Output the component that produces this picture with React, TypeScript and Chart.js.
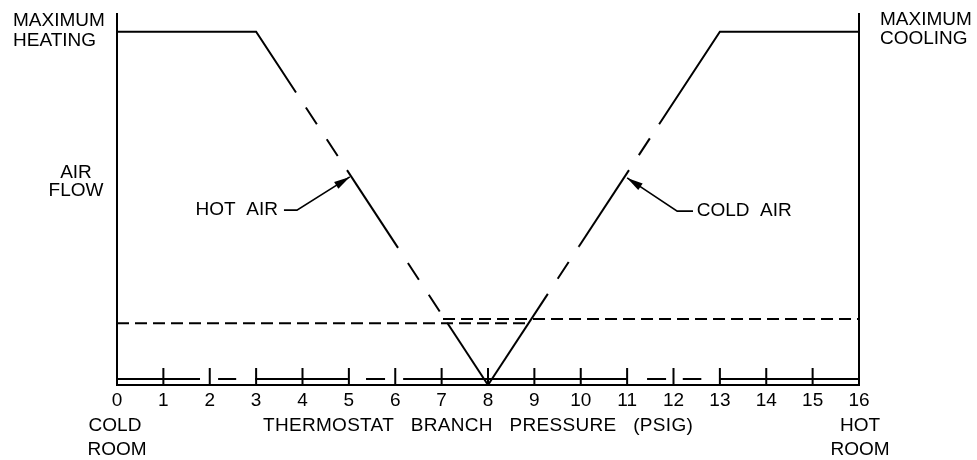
import React, { useEffect, useRef } from "react";
import { Chart, registerables } from "chart.js";

Chart.register(...registerables);

// ---- data ----
const X_TICKS = [0, 1, 2, 3, 4, 5, 6, 7, 8, 9, 10, 11, 12, 13, 14, 15, 16];
const Y_MAX = 105;

// Hot air curve: breakpoints where the line switches between solid and dashed
const HOT_X = [0, 3, 3.86, 4.96, 6.06, 7.12, 8];
const HOT_Y = [100, 100, 82.8, 60.8, 38.8, 17.6, 0];
const HOT_DASHED_SEGMENTS = [2, 4];

// Cold air curve
const COLD_X = [8, 9.29, 9.96, 11.04, 11.69, 13, 16];
const COLD_Y = [0, 25.8, 39.2, 60.8, 73.8, 100, 100];
const COLD_DASHED_SEGMENTS = [1, 3];

// Minimum-flow dashed levels
const MIN_LEFT_X = [0, 8.92];
const MIN_LEFT_Y = 17.5;
const MIN_RIGHT_X = [7.03, 16];
const MIN_RIGHT_Y = 18.7;

// Upper rail of the double bottom line (segments)
const RAIL_SEGMENTS: [number, number][] = [
  [0, 1.79],
  [2.18, 2.57],
  [2.98, 4.98],
  [5.37, 5.78],
  [6.17, 11.0],
  [11.43, 11.84],
  [12.2, 12.6],
  [13, 16],
];
const RAIL_Y = 1.7;
const TICK_MARK_X = [1, 2, 3, 4, 5, 6, 7, 8, 9, 10, 11, 12, 13, 14, 15];
const TICK_MARK_TOP = 4.8;

// Annotation anchors (data coords)
const HOT_LABEL = { x: 3.47, y: 49.5 };
const HOT_LEADER = [
  { x: 3.6, y: 49.5 },
  { x: 3.88, y: 49.5 },
  { x: 5.02, y: 58.9 },
];
const COLD_LABEL = { x: 12.5, y: 49.2 };
const COLD_LEADER = [
  { x: 12.42, y: 49.2 },
  { x: 12.08, y: 49.2 },
  { x: 11.0, y: 58.6 },
];

const FONT = '19px "Liberation Sans", Arial, sans-serif';

function pairsToPoints(xs: number[], ys: number[]) {
  return xs.map((x, i) => ({ x, y: ys[i] }));
}

const annotationPlugin = {
  id: "annotations",
  afterDraw(chart: any) {
    const { ctx, chartArea: a, scales } = chart;
    const xs = scales.x;
    const ys = scales.y;
    const px = (v: number) => xs.getPixelForValue(v);
    const py = (v: number) => ys.getPixelForValue(v);
    ctx.save();
    ctx.fillStyle = "#000";
    ctx.strokeStyle = "#000";
    ctx.font = FONT;
    ctx.textBaseline = "middle";

    ctx.textAlign = "left";
    ctx.fillText("MAXIMUM", 13, 21);
    ctx.fillText("HEATING", 13, 41);
    ctx.fillText("MAXIMUM", a.right + 21, 20);
    ctx.fillText("COOLING", a.right + 21, 39);

    ctx.textAlign = "center";
    ctx.fillText("AIR", a.left - 41, 173);
    ctx.fillText("FLOW", a.left - 41, 191);
    ctx.fillText("COLD", a.left - 2, 426);
    ctx.fillText("ROOM", a.left, 450);
    ctx.fillText("HOT", a.right + 1, 426);
    ctx.fillText("ROOM", a.right + 1, 450);

    ctx.textAlign = "left";
    try {
      (ctx as any).letterSpacing = "0.3px";
    } catch (e) {}
    ctx.fillText("THERMOSTAT   BRANCH   PRESSURE   (PSIG)", a.left + 146, 426);
    try {
      (ctx as any).letterSpacing = "0px";
    } catch (e) {}

    // HOT AIR label + leader
    ctx.textAlign = "right";
    ctx.fillText("HOT  AIR", px(HOT_LABEL.x), py(HOT_LABEL.y));
    ctx.textAlign = "left";
    ctx.fillText("COLD  AIR", px(COLD_LABEL.x), py(COLD_LABEL.y));

    const drawLeader = (pts: { x: number; y: number }[]) => {
      ctx.lineWidth = 1.6;
      ctx.beginPath();
      pts.forEach((p, i) => {
        const X = px(p.x);
        const Y = py(p.y);
        if (i === 0) ctx.moveTo(X, Y);
        else ctx.lineTo(X, Y);
      });
      ctx.stroke();
      const p1 = pts[pts.length - 2];
      const p2 = pts[pts.length - 1];
      const x1 = px(p1.x), y1 = py(p1.y), x2 = px(p2.x), y2 = py(p2.y);
      const ang = Math.atan2(y2 - y1, x2 - x1);
      const len = 16;
      const hw = 4;
      const bx = x2 - len * Math.cos(ang);
      const by = y2 - len * Math.sin(ang);
      ctx.beginPath();
      ctx.moveTo(x2, y2);
      ctx.lineTo(bx + hw * Math.sin(ang), by - hw * Math.cos(ang));
      ctx.lineTo(bx - hw * Math.sin(ang), by + hw * Math.cos(ang));
      ctx.closePath();
      ctx.fill();
    };
    drawLeader(HOT_LEADER);
    drawLeader(COLD_LEADER);
    ctx.restore();
  },
};

export default function App() {
  const canvasRef = useRef<HTMLCanvasElement | null>(null);

  useEffect(() => {
    document.body.style.margin = "0";
    const canvas = canvasRef.current;
    if (!canvas) return;

    const railData: any[] = [];
    RAIL_SEGMENTS.forEach(([s, e]) => {
      railData.push({ x: s, y: RAIL_Y }, { x: e, y: RAIL_Y }, { x: e, y: null });
    });
    const tickData: any[] = [];
    TICK_MARK_X.forEach((t) => {
      tickData.push({ x: t, y: 0 }, { x: t, y: TICK_MARK_TOP }, { x: t, y: null });
    });

    const dashSeg = (list: number[]) => ({
      borderDash: (c: any) => (list.includes(c.p0DataIndex) ? [20, 18] : undefined),
      borderDashOffset: (c: any) => (list.includes(c.p0DataIndex) ? 20 : undefined),
    });

    const base = {
      borderColor: "#000",
      borderWidth: 2,
      pointRadius: 0,
      fill: false,
      tension: 0,
      borderCapStyle: "butt" as const,
    };

    const chart = new Chart(canvas, {
      type: "line",
      data: {
        datasets: [
          { ...base, label: "Hot air", data: pairsToPoints(HOT_X, HOT_Y), segment: dashSeg(HOT_DASHED_SEGMENTS), clip: false },
          { ...base, label: "Cold air", data: pairsToPoints(COLD_X, COLD_Y), segment: dashSeg(COLD_DASHED_SEGMENTS), clip: false },
          {
            ...base,
            label: "Min left",
            data: MIN_LEFT_X.map((x) => ({ x, y: MIN_LEFT_Y })),
            borderDash: [12, 6],
          },
          {
            ...base,
            label: "Min right",
            data: MIN_RIGHT_X.map((x) => ({ x, y: MIN_RIGHT_Y })),
            borderDash: [12, 6],
          },
          { ...base, label: "Rail", data: railData, spanGaps: false },
          { ...base, label: "Ticks", data: tickData, spanGaps: false },
        ],
      },
      options: {
        animation: false,
        responsive: true,
        maintainAspectRatio: false,
        layout: { padding: { left: 117, right: 118, top: 14, bottom: 0 } },
        plugins: {
          legend: { display: false },
          tooltip: { enabled: false },
        },
        scales: {
          x: {
            type: "linear",
            min: 0,
            max: 16,
            afterBuildTicks: (s: any) => {
              s.ticks = X_TICKS.map((v) => ({ value: v }));
            },
            grid: { display: false, drawTicks: false },
            border: { display: true, color: "#000", width: 2 },
            ticks: {
              color: "#000",
              font: { family: '"Liberation Sans", Arial, sans-serif', size: 19 },
              padding: 4,
              maxRotation: 0,
              autoSkip: false,
            },
            afterFit: (s: any) => {
              s.height = 75;
            },
          },
          y: {
            type: "linear",
            min: 0,
            max: Y_MAX,
            position: "left",
            grid: { display: false, drawTicks: false },
            ticks: { display: false },
            border: { display: true, color: "#000", width: 2 },
            afterFit: (s: any) => {
              s.width = 0;
            },
          },
          y2: {
            type: "linear",
            min: 0,
            max: Y_MAX,
            position: "right",
            display: true,
            grid: { display: false, drawTicks: false },
            ticks: { display: false },
            border: { display: true, color: "#000", width: 2 },
            afterFit: (s: any) => {
              s.width = 0;
            },
          },
        },
      },
      plugins: [annotationPlugin],
    });

    return () => chart.destroy();
  }, []);

  return (
    <div style={{ width: 977, height: 460, position: "relative", background: "#fff" }}>
      <canvas ref={canvasRef} />
    </div>
  );
}
